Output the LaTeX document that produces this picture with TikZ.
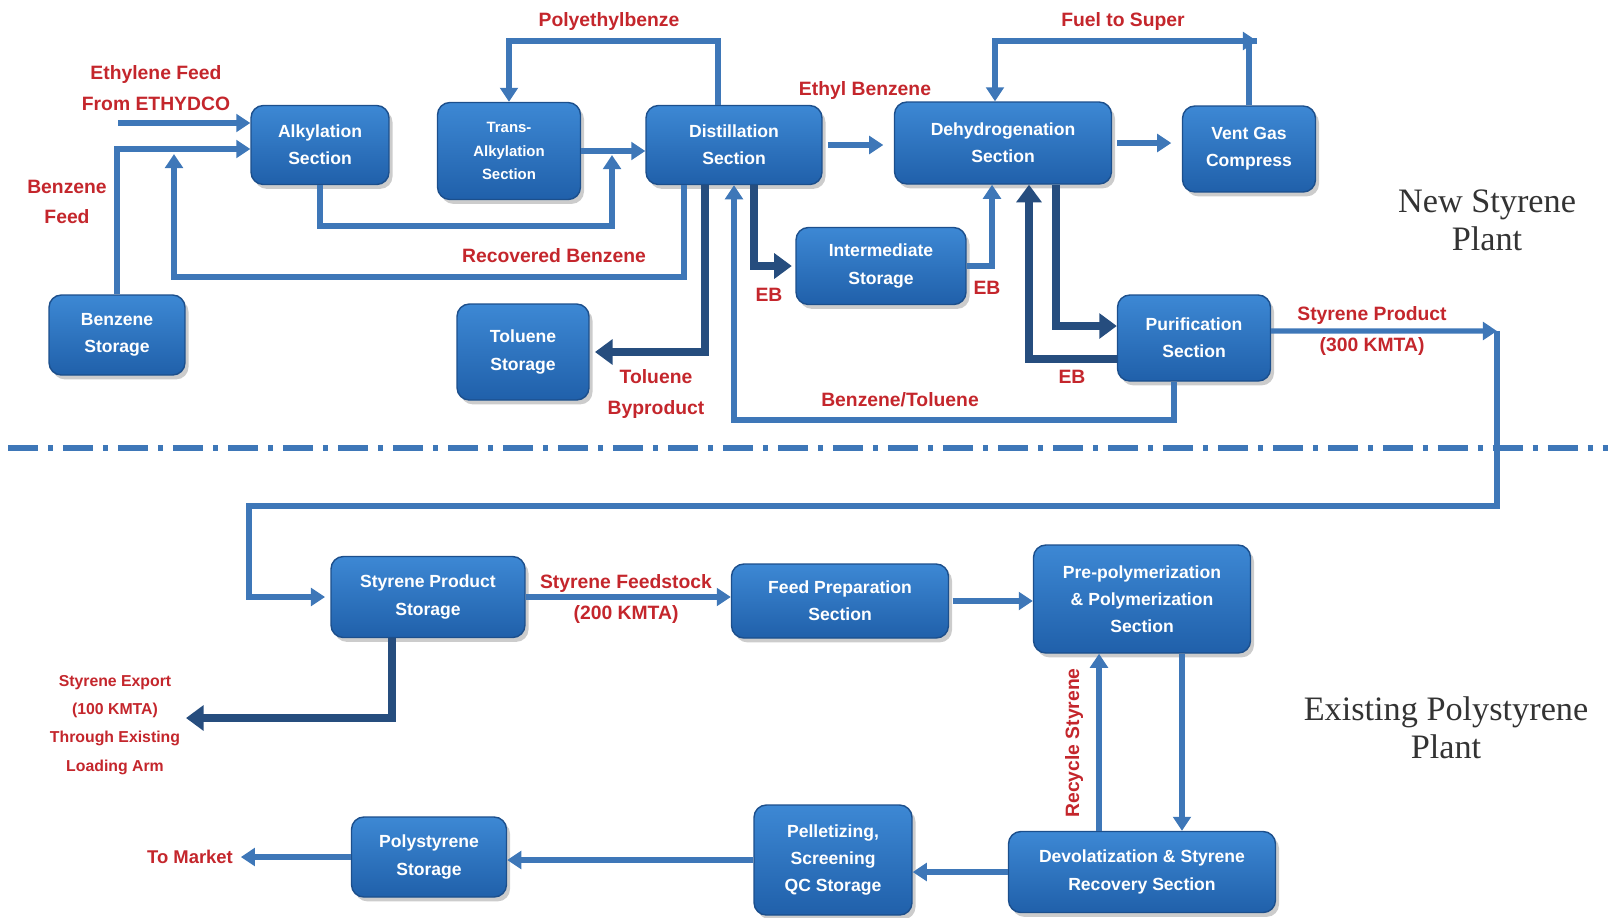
\documentclass[tikz,border=0pt]{standalone}
\usepackage{fontspec}
\setmainfont{Liberation Sans}
\newfontfamily\plantfont{Liberation Serif}
\usetikzlibrary{arrows.meta, shadows, positioning}

\definecolor{boxtop}{HTML}{3D88D4}
\definecolor{boxbot}{HTML}{2060AA}
\definecolor{boxedge}{HTML}{1C4F8C}
\definecolor{pipe}{HTML}{3E77B8}
\definecolor{pipedark}{HTML}{264D7E}
\definecolor{labred}{HTML}{C4262C}

\tikzset{
  unit/.style={rounded corners=7pt, top color=boxtop, bottom color=boxbot, draw=boxedge,
    line width=0.8pt, text=white, align=center, inner sep=0pt,
    font=\bfseries\fontsize{10}{15.5}\selectfont,
    drop shadow={opacity=0.4, shadow xshift=2pt, shadow yshift=-2.5pt}},
  flow/.style={draw=pipe, line width=2.9pt, -{Triangle[length=8pt,width=10pt]}},
  flowdark/.style={draw=pipedark, line width=4.6pt, -{Triangle[length=10pt,width=14pt]}},
  lab/.style={text=labred, align=center, font=\bfseries\fontsize{11}{17.5}\selectfont},
  smalllab/.style={lab, font=\bfseries\fontsize{9}{16}\selectfont},
  plant/.style={align=center, text=black!80, font=\plantfont\fontsize{19.5}{21.5}\selectfont}
}

\begin{document}
\begin{tikzpicture}[x=0.02cm, y=-0.02cm]
  \useasboundingbox (0,0) rectangle (1608,917);

  % --- new styrene plant ---
  \node[unit, minimum width=2.76cm, minimum height=1.58cm] (alky) at (320,145) {Alkylation\\Section};
  \node[unit, minimum width=2.86cm, minimum height=1.94cm, font=\bfseries\fontsize{8.5}{13.4}\selectfont] (trans) at (509,151) {Trans-\\Alkylation\\Section};
  \node[unit, minimum width=3.52cm, minimum height=1.58cm] (dist) at (734,145) {Distillation\\Section};
  \node[unit, minimum width=4.34cm, minimum height=1.64cm] (dehyd) at (1003,143) {Dehydrogenation\\Section};
  \node[unit, minimum width=2.66cm, minimum height=1.72cm] (vent) at (1249,149) {Vent Gas\\Compress};
  \node[unit, minimum width=3.40cm, minimum height=1.54cm] (inter) at (881,266) {Intermediate\\Storage};
  \node[unit, minimum width=3.06cm, minimum height=1.72cm] (purif) at (1194,338) {Purification\\Section};
  \node[unit, minimum width=2.72cm, minimum height=1.60cm] (benz) at (117,335) {Benzene\\Storage};
  \node[unit, minimum width=2.64cm, minimum height=1.92cm] (tolu) at (523,352) {Toluene\\Storage};

  % --- existing polystyrene plant ---
  \node[unit, minimum width=3.88cm, minimum height=1.62cm] (spstor) at (428,597) {Styrene Product\\Storage};
  \node[unit, minimum width=4.34cm, minimum height=1.48cm] (feed) at (840,601) {Feed Preparation\\Section};
  \node[unit, minimum width=4.34cm, minimum height=2.16cm] (prepoly) at (1142,599) {Pre-polymerization\\\& Polymerization\\Section};
  \node[unit, minimum width=5.34cm, minimum height=1.62cm] (devol) at (1142,872) {Devolatization \& Styrene\\Recovery Section};
  \node[unit, minimum width=3.16cm, minimum height=2.20cm] (pellet) at (833,860) {Pelletizing,\\Screening\\QC Storage};
  \node[unit, minimum width=3.10cm, minimum height=1.60cm] (psstor) at (429,857) {Polystyrene\\Storage};

  % plant names
  \node[plant] (newplant) at (1487,220) {New Styrene\\Plant};
  \node[plant] (oldplant) at (1446,728) {Existing Polystyrene\\Plant};

  % dividing line
  \coordinate (divl) at (8,448);
  \coordinate (divr) at (1608,448);
  \draw[pipe, line width=3.3pt, dash pattern=on 0.6cm off 0.2cm on 0.1cm off 0.2cm] (divl) -- (divr);

  % feeds
  \coordinate (ethin) at (118,123);
  \draw[flow] (ethin) -- (ethin -| alky.west);
  \draw[flow] (benz.north) |- ([yshift=-.08cm]alky.west);

  % recovered benzene
  \coordinate (reccorner) at (174,277);
  \coordinate (recend) at (174,154);
  \draw[flow] ([xshift=-1cm]dist.south) |- (reccorner) -- (recend);

  % alkylation to distillation
  \coordinate (alkycorner) at (612,226);
  \coordinate (alkyend) at (612,155);
  \draw[flow] (alky.south) |- (alkycorner) -- (alkyend);
  \draw[flow] (trans.east) -- (trans.east -| dist.west);

  % polyethylbenzene back to trans-alkylation
  \coordinate (pebtop) at (600,41);
  \draw[flow] ([xshift=-.32cm]dist.north) |- (pebtop) -| (trans.north);

  % main line
  \draw[flow, shorten <=3pt, shorten >=6pt] (dist.east) -- (dist.east -| dehyd.west);
  \draw[flow, shorten <=3pt, shorten >=6pt] (dehyd.east) -- (dehyd.east -| vent.west);

  % fuel to super
  \coordinate (fuelout) at (1257,41);
  \draw[flow] (vent.north) |- (fuelout);
  \draw[flow] (fuelout) -| ([xshift=-.16cm]dehyd.north);

  % EB through intermediate storage
  \draw[flowdark] ([xshift=.4cm]dist.south) |- ([xshift=-2pt]inter.west);
  \draw[flow] (inter.east) -| ([xshift=-.22cm]dehyd.south);

  % dehydrogenation and purification
  \draw[flowdark] ([xshift=1.06cm]dehyd.south) |- ([yshift=.24cm]purif.west);
  \draw[flowdark] ([yshift=-.42cm]purif.west) -| ([xshift=.52cm]dehyd.south);

  % benzene/toluene back to distillation
  \coordinate (btcorner) at (900,420);
  \draw[flow] ([xshift=-.4cm]purif.south) |- (btcorner) -| (dist.south);

  % toluene byproduct
  \draw[flowdark] ([xshift=-.58cm]dist.south) |- ([xshift=3pt]tolu.east);

  % styrene product to the existing plant
  \coordinate (spout) at (1497,331);
  \coordinate (loopleft) at (249,506);
  \draw[flow] ([yshift=.14cm]purif.east) -- (spout);
  \draw[flow] (spout) |- (loopleft) |- ([xshift=-3pt]spstor.west);

  % polystyrene plant
  \draw[flow] (spstor.east) -- (spstor.east -| feed.west);
  \draw[flow, shorten <=2pt] (feed.east) -- (feed.east -| prepoly.west);
  \draw[flow] ([xshift=.8cm]prepoly.south) -- ([xshift=.8cm]devol.north);
  \draw[flow] ([xshift=-.86cm]devol.north) -- ([xshift=-.86cm]prepoly.south);
  \draw[flow] (devol.west) -- (devol.west -| pellet.east);
  \draw[flow] (pellet.west) -- (pellet.west -| psstor.east);

  % products out
  \coordinate (exportend) at (186,718);
  \draw[flowdark] ([xshift=-.72cm]spstor.south) |- (exportend);
  \node[lab, font=\bfseries\fontsize{10.5}{16}\selectfont] (marketlab) at (190,857) {To Market};
  \draw[flow] (psstor.west) -- ([xshift=1pt]marketlab.east);

  % stream labels
  \node[lab] (ethlab) at (156,88) {Ethylene Feed\\From ETHYDCO};
  \node[lab] (bzlab) at (67,202) {Benzene\\Feed};
  \node[lab] (peblab) at (609,21) {Polyethylbenze};
  \node[lab] (reclab) at (554,256) {Recovered Benzene};
  \node[lab] (eblab) at (865,90) {Ethyl Benzene};
  \node[lab] (fuellab) at (1123,21) {Fuel to Super};
  \node[lab] (ebone) at (769,295) {EB};
  \node[lab] (ebtwo) at (987,288) {EB};
  \node[lab] (ebthree) at (1072,377) {EB};
  \node[lab] (tolab) at (656,394) {Toluene\\Byproduct};
  \node[lab] (btlab) at (900,400) {Benzene/Toluene};
  \node[lab] (splab) at (1372,331) {Styrene Product\\(300 KMTA)};
  \node[lab] (sflab) at (626,599) {Styrene Feedstock\\(200 KMTA)};
  \node[smalllab] (exlab) at (115,725) {Styrene Export\\(100 KMTA)\\Through Existing\\Loading Arm};
  \node[lab, rotate=90] (rslab) at (1074,743) {Recycle Styrene};
\end{tikzpicture}
\end{document}
